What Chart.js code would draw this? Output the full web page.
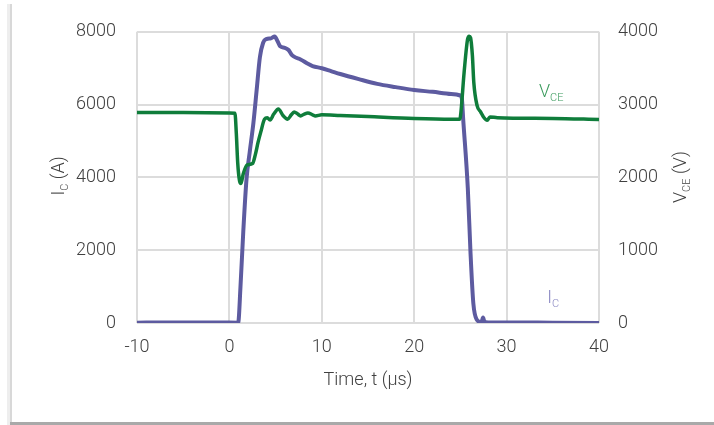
<!DOCTYPE html>
<html>
<head>
<meta charset="utf-8">
<script src="https://cdn.jsdelivr.net/npm/chart.js@4.4.1/dist/chart.umd.min.js"></script>
<style>
  html, body { margin: 0; padding: 0; background: #fff; }
  #wrap { position: relative; width: 714px; height: 425px; overflow: hidden; }
  #edgeL1 { position: absolute; left: 7px; top: 4px; width: 3px; height: 421px; background: #eeeeee; }
  #edgeL2 { position: absolute; left: 10px; top: 4px; width: 2px; height: 421px; background: #d8d8d8; }
  #edgeB { position: absolute; left: 10px; top: 422px; width: 704px; height: 3px; background: #a9a9a9; }
</style>
</head>
<body>
<div id="wrap">
  <canvas id="chart" width="714" height="425"></canvas>
  <div id="edgeL1"></div><div id="edgeL2"></div><div id="edgeB"></div>
</div>
<script>
// collector current I_C (A)
const icTime = [-10, -7, -4, -1, 0.95, 1.2, 1.5, 1.85, 2.2, 2.6, 2.95, 3.3, 3.65, 4.0, 4.5, 4.9,
  5.2, 5.5, 6.0, 6.4, 6.8, 7.3, 7.7, 8.5, 9.0, 10, 11, 12, 14, 16, 18, 20, 22, 24, 25,
  25.16, 25.3, 25.8, 26.1, 26.4, 26.8, 27.1, 27.3, 27.45, 27.6, 28, 30, 35, 40];
const icValues = [10, 15, 12, 12, 10, 1000, 2500, 3950, 4700, 5500, 6400, 7300, 7700, 7800, 7820, 7870,
  7750, 7600, 7560, 7500, 7350, 7280, 7240, 7120, 7060, 7000, 6920, 6840, 6700, 6570, 6480, 6400, 6350, 6290, 6250,
  6160, 5610, 3710, 1900, 540, 80, 35, 30, 150, 30, 15, 15, 8, 0];

// collector-emitter voltage V_CE (V)
const vceTime = [-10, -5, 0, 0.6, 0.75, 0.9, 1.1, 1.25, 1.5, 1.9, 2.5, 2.8, 3.1, 3.4, 3.8, 4.1,
  4.4, 4.8, 5.3, 5.8, 6.3, 6.7, 7.0, 7.4, 7.7, 8.1, 8.5, 9.0, 9.3, 10, 12, 15, 20, 24, 24.9,
  25.0, 25.4, 25.77, 25.95, 26.1, 26.3, 26.45, 26.8, 27.2, 27.5, 27.9, 28.2, 29, 35, 40];
const vceValues = [2890, 2890, 2885, 2880, 2600, 2200, 1950, 1915, 2050, 2170, 2190, 2310, 2480, 2625, 2800, 2820,
  2790, 2870, 2940, 2850, 2800, 2860, 2900, 2870, 2845, 2870, 2885, 2860, 2845, 2860, 2850, 2835, 2810, 2800, 2800,
  2830, 3440, 3895, 3940, 3918, 3669, 3306, 2989, 2898, 2830, 2785, 2830, 2820, 2810, 2795];

const xTicks = [-10, 0, 10, 20, 30, 40];

const toPoints = (xs, ys) => xs.map((x, i) => ({ x: x, y: ys[i] }));

const FONT = "Roboto, 'Open Sans', sans-serif";
const TEXT = "#404040";
const tickFont = { family: FONT, size: 18, weight: 300 };

// text with a subscript part, drawn on the canvas
function drawSub(ctx, parts, x, y, rotate) {
  ctx.save();
  ctx.translate(x, y);
  if (rotate) ctx.rotate(-Math.PI / 2);
  let total = 0;
  parts.forEach(p => {
    ctx.font = "300 " + p.size + "px " + FONT;
    total += ctx.measureText(p.text).width;
  });
  let cx = rotate ? -total / 2 : 0;
  ctx.textBaseline = "alphabetic";
  ctx.textAlign = "left";
  parts.forEach(p => {
    ctx.font = "300 " + p.size + "px " + FONT;
    ctx.fillStyle = p.color;
    ctx.fillText(p.text, cx, p.dy || 0);
    cx += ctx.measureText(p.text).width;
  });
  ctx.restore();
}

const labelPlugin = {
  id: "labels",
  afterDraw(chart) {
    const ctx = chart.ctx;
    const x = chart.scales.x, yl = chart.scales.y, yr = chart.scales.y1;
    // axis titles
    drawSub(ctx, [
      { text: "I", size: 18, color: TEXT },
      { text: "C", size: 11, color: TEXT, dy: 4 },
      { text: " (A)", size: 18, color: TEXT }
    ], 64, 176, true);
    drawSub(ctx, [
      { text: "V", size: 18, color: TEXT },
      { text: "CE", size: 11, color: TEXT, dy: 4 },
      { text: " (V)", size: 18, color: TEXT }
    ], 686, 177, true);
    // series labels
    drawSub(ctx, [
      { text: "V", size: 18, color: "#3a9a5c" },
      { text: "CE", size: 11, color: "#3a9a5c", dy: 4 }
    ], x.getPixelForValue(33.5), yr.getPixelForValue(3100), false);
    drawSub(ctx, [
      { text: "I", size: 18, color: "#8987c2" },
      { text: "C", size: 11, color: "#8987c2", dy: 4 }
    ], x.getPixelForValue(34.4), yl.getPixelForValue(540), false);
  }
};

new Chart(document.getElementById("chart"), {
  type: "line",
  data: {
    datasets: [
      {
        label: "VCE",
        data: toPoints(vceTime, vceValues),
        yAxisID: "y1",
        borderColor: "#0f7d3b",
        borderWidth: 3.5,
        pointRadius: 0,
        cubicInterpolationMode: "monotone"
      },
      {
        label: "IC",
        data: toPoints(icTime, icValues),
        yAxisID: "y",
        borderColor: "#5d5ba0",
        borderWidth: 4,
        pointRadius: 0,
        cubicInterpolationMode: "monotone"
      }
    ]
  },
  options: {
    responsive: false,
    animation: false,
    layout: { padding: { top: 29, left: 0, right: 0, bottom: 0 } },
    plugins: {
      legend: { display: false },
      tooltip: { enabled: false }
    },
    scales: {
      x: {
        type: "linear",
        min: -10,
        max: 40,
        afterBuildTicks: s => { s.ticks = xTicks.map(v => ({ value: v })); },
        afterFit: s => { s.height = 102; },
        grid: { color: "#dcdcdc", lineWidth: 2, drawTicks: false },
        border: { display: false },
        title: {
          display: true,
          text: "Time, t (µs)",
          color: TEXT,
          font: tickFont,
          padding: { top: 0, bottom: 34 }
        },
        ticks: { padding: 14, color: TEXT, font: tickFont, callback: v => String(v) }
      },
      y: {
        position: "left",
        min: 0,
        max: 8000,
        afterFit: s => { s.width = 137; },
        grid: { color: "#dcdcdc", lineWidth: 2, drawTicks: false },
        border: { display: false },
        ticks: { stepSize: 2000, padding: 21, color: TEXT, font: tickFont, callback: v => String(v) }
      },
      y1: {
        position: "right",
        min: 0,
        max: 4000,
        afterFit: s => { s.width = 115; },
        grid: { display: false, drawTicks: false },
        border: { display: false },
        ticks: { stepSize: 1000, padding: 19, color: TEXT, font: tickFont, callback: v => String(v) }
      }
    }
  },
  plugins: [labelPlugin]
});
</script>
</body>
</html>
